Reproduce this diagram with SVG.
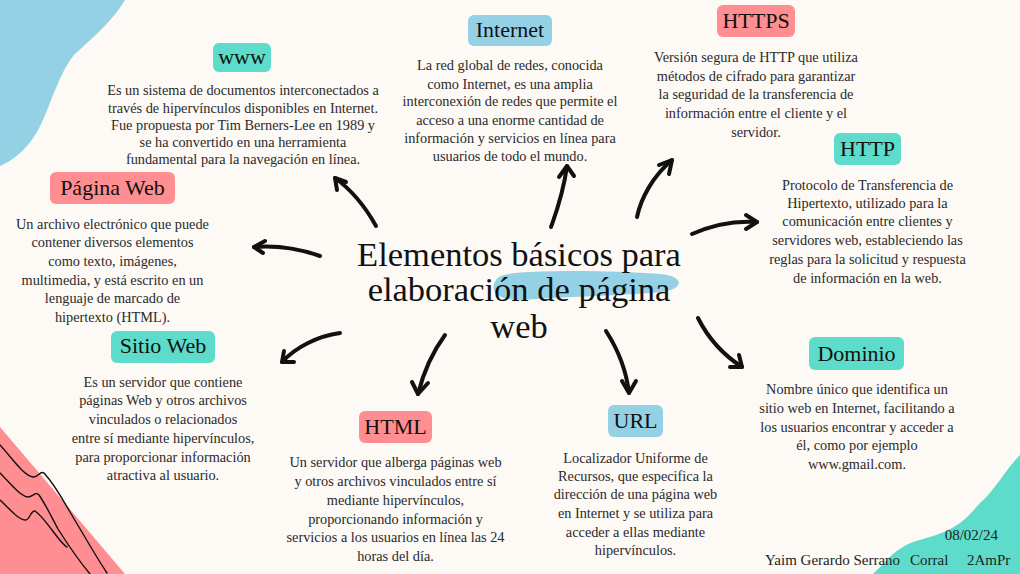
<svg xmlns="http://www.w3.org/2000/svg" width="1020" height="574" viewBox="0 0 1020 574">
<defs>
<style>
.bg{fill:#fdf9f5}
.teal{fill:#5ddccb}
.pink{fill:#fe8e92}
.blue{fill:#94d1e5}
.tag{font-family:"Liberation Serif","Times New Roman",serif;font-size:22px;fill:#111;text-anchor:middle}
.body{font-family:"Liberation Serif","Times New Roman",serif;font-size:14.3px;fill:#2a2a2a;text-anchor:middle}
.title{font-family:"Liberation Serif","Times New Roman",serif;font-size:34.5px;fill:#111;text-anchor:middle}
.foot{font-family:"Liberation Serif","Times New Roman",serif;font-size:15px;fill:#222}
.arrow{fill:none;stroke:#111;stroke-width:4;stroke-linecap:round;stroke-linejoin:round}
.wave{fill:none;stroke:#111;stroke-width:1.4;stroke-linecap:round}
</style>
</defs>
<rect class="bg" x="0" y="0" width="1020" height="574"/>

<!-- decorations -->
<path class="blue" d="M0,0 L125,0 C112,22 92,38 74,55 C60,72 52,100 42,122 C32,145 15,160 0,166 Z"/>
<path class="pink" d="M0,427 L125,574 L0,574 Z"/>
<path class="wave" d="M0,445 C12,458 24,476 33,477 C38,478 40,470 44,473 C55,485 63,500 70,512 C82,532 95,555 107,573"/>
<path class="wave" d="M0,473 C10,483 20,496 28,497 C33,497 35,491 39,495 C46,505 52,518 58,529 C70,548 80,562 90,574"/>
<path class="wave" d="M0,500 C9,508 18,520 26,520 C30,519 31,510 35,511 C42,516 47,524 52,530 C58,538 63,545 67,547"/>
<path class="teal" d="M1020,455 C1012,463 1006,472 1000,480 C993,489 987,497 980,503 C973,511 967,518 960,523 C950,530 940,534 930,537 C920,540 910,542 903,547 C896,551 891,555 887,560 C882,565 877,570 873,574 L1020,574 Z"/>

<!-- title -->
<g id="title">
<path class="blue" d="M496,280 C499,274 512,273 530,272 C570,270 620,271 660,274 C672,275 678,278 679,283 C678,289 668,292 650,293 C610,296 560,297 520,300 C505,300 496,296 494,290 C493,286 494,283 496,280 Z"/>
<text class="title" x="519" y="266">Elementos básicos para</text>
<text class="title" x="519" y="301">elaboración de página</text>
<text class="title" x="519" y="338">web</text>
</g>

<!-- connectors -->
<g id="connectors">
<path class="arrow" d="M376,226 C366,208 353,191 335,178"/>
<path class="arrow" d="M346,182 L335,178 L337,190"/>
<path class="arrow" d="M320,256 C300,249 280,245 254,247"/>
<path class="arrow" d="M265,241 L254,247 L263,253"/>
<path class="arrow" d="M340,333 C318,336 296,347 282,362"/>
<path class="arrow" d="M284,351 L282,362 L294,362"/>
<path class="arrow" d="M445,335 C434,350 424,370 418,394"/>
<path class="arrow" d="M412,382 L418,394 L428,383"/>
<path class="arrow" d="M606,331 C617,348 626,368 629,393"/>
<path class="arrow" d="M622,381 L629,393 L636,381"/>
<path class="arrow" d="M551,227 C556,213 563,195 567,166"/>
<path class="arrow" d="M559,177 L567,166 L574,176"/>
<path class="arrow" d="M637,217 C641,198 653,176 672,160"/>
<path class="arrow" d="M659,165 L672,160 L669,174"/>
<path class="arrow" d="M692,234 C710,226 730,220 757,222"/>
<path class="arrow" d="M746,215 L757,222 L746,229"/>
<path class="arrow" d="M698,318 C708,338 722,354 742,367"/>
<path class="arrow" d="M730,367 L742,367 L739,355"/>
</g>

<!-- nodes -->
<g id="node-www">
<rect class="teal" x="213" y="43" width="58" height="29" rx="6"/>
<text class="tag" x="242" y="64">www</text>
<text class="body" x="243" y="95">Es un sistema de documentos interconectados a</text>
<text class="body" x="243" y="112.5">través de hipervínculos disponibles en Internet.</text>
<text class="body" x="243" y="130">Fue propuesta por Tim Berners-Lee en 1989 y</text>
<text class="body" x="243" y="147">se ha convertido en una herramienta</text>
<text class="body" x="243" y="163.5">fundamental para la navegación en línea.</text>
</g>

<g id="node-internet">
<rect class="blue" x="468" y="15" width="84" height="31" rx="6"/>
<text class="tag" x="510" y="37">Internet</text>
<text class="body" x="510" y="70">La red global de redes, conocida</text>
<text class="body" x="510" y="88.5">como Internet, es una amplia</text>
<text class="body" x="510" y="106">interconexión de redes que permite el</text>
<text class="body" x="510" y="124.5">acceso a una enorme cantidad de</text>
<text class="body" x="510" y="142.5">información y servicios en línea para</text>
<text class="body" x="510" y="161">usuarios de todo el mundo.</text>
</g>

<g id="node-https">
<rect class="pink" x="717" y="5" width="78" height="32" rx="6"/>
<text class="tag" x="756" y="28">HTTPS</text>
<text class="body" x="756" y="62">Versión segura de HTTP que utiliza</text>
<text class="body" x="756" y="80.5">métodos de cifrado para garantizar</text>
<text class="body" x="756" y="99">la seguridad de la transferencia de</text>
<text class="body" x="756" y="117.5">información entre el cliente y el</text>
<text class="body" x="756" y="136.5">servidor.</text>
</g>

<g id="node-http">
<rect class="teal" x="834" y="133" width="67" height="32" rx="6"/>
<text class="tag" x="867.5" y="156">HTTP</text>
<text class="body" x="867.5" y="189.5">Protocolo de Transferencia de</text>
<text class="body" x="867.5" y="208">Hipertexto, utilizado para la</text>
<text class="body" x="867.5" y="226">comunicación entre clientes y</text>
<text class="body" x="867.5" y="244.5">servidores web, estableciendo las</text>
<text class="body" x="867.5" y="263.5">reglas para la solicitud y respuesta</text>
<text class="body" x="867.5" y="282.5">de información en la web.</text>
</g>

<g id="node-pagina-web">
<rect class="pink" x="50" y="172" width="125" height="32" rx="6"/>
<text class="tag" x="112.5" y="195">Página Web</text>
<text class="body" x="112.5" y="228.5">Un archivo electrónico que puede</text>
<text class="body" x="112.5" y="247">contener diversos elementos</text>
<text class="body" x="112.5" y="266">como texto, imágenes,</text>
<text class="body" x="112.5" y="284.5">multimedia, y está escrito en un</text>
<text class="body" x="112.5" y="302.5">lenguaje de marcado de</text>
<text class="body" x="112.5" y="321.5">hipertexto (HTML).</text>
</g>

<g id="node-sitio-web">
<rect class="teal" x="111" y="331" width="104" height="32" rx="6"/>
<text class="tag" x="163" y="353">Sitio Web</text>
<text class="body" x="163" y="387">Es un servidor que contiene</text>
<text class="body" x="163" y="405">páginas Web y otros archivos</text>
<text class="body" x="163" y="423.5">vinculados o relacionados</text>
<text class="body" x="163" y="443">entre sí mediante hipervínculos,</text>
<text class="body" x="163" y="461.5">para proporcionar información</text>
<text class="body" x="163" y="480">atractiva al usuario.</text>
</g>

<g id="node-html">
<rect class="pink" x="359" y="411" width="73" height="32" rx="6"/>
<text class="tag" x="395.5" y="434">HTML</text>
<text class="body" x="395.5" y="467">Un servidor que alberga páginas web</text>
<text class="body" x="395.5" y="486">y otros archivos vinculados entre sí</text>
<text class="body" x="395.5" y="505">mediante hipervínculos,</text>
<text class="body" x="395.5" y="523.5">proporcionando información y</text>
<text class="body" x="395.5" y="542">servicios a los usuarios en línea las 24</text>
<text class="body" x="395.5" y="561">horas del día.</text>
</g>

<g id="node-url">
<rect class="blue" x="608" y="405" width="55" height="32" rx="6"/>
<text class="tag" x="635.5" y="428">URL</text>
<text class="body" x="635.5" y="462.5">Localizador Uniforme de</text>
<text class="body" x="635.5" y="481">Recursos, que especifica la</text>
<text class="body" x="635.5" y="499">dirección de una página web</text>
<text class="body" x="635.5" y="518">en Internet y se utiliza para</text>
<text class="body" x="635.5" y="537">acceder a ellas mediante</text>
<text class="body" x="635.5" y="555">hipervínculos.</text>
</g>

<g id="node-dominio">
<rect class="teal" x="809" y="337" width="95" height="33" rx="6"/>
<text class="tag" x="856.5" y="361">Dominio</text>
<text class="body" x="857" y="394">Nombre único que identifica un</text>
<text class="body" x="857" y="412.5">sitio web en Internet, facilitando a</text>
<text class="body" x="857" y="431.5">los usuarios encontrar y acceder a</text>
<text class="body" x="857" y="450">él, como por ejemplo</text>
<text class="body" x="857" y="468.5">www.gmail.com.</text>
</g>

<g id="footer">
<text class="foot" x="998" y="540" text-anchor="end">08/02/24</text>
<text class="foot" x="765" y="565">Yaim Gerardo Serrano</text>
<text class="foot" x="910" y="565">Corral</text>
<text class="foot" x="967" y="565">2AmPr</text>
</g>
</svg>
